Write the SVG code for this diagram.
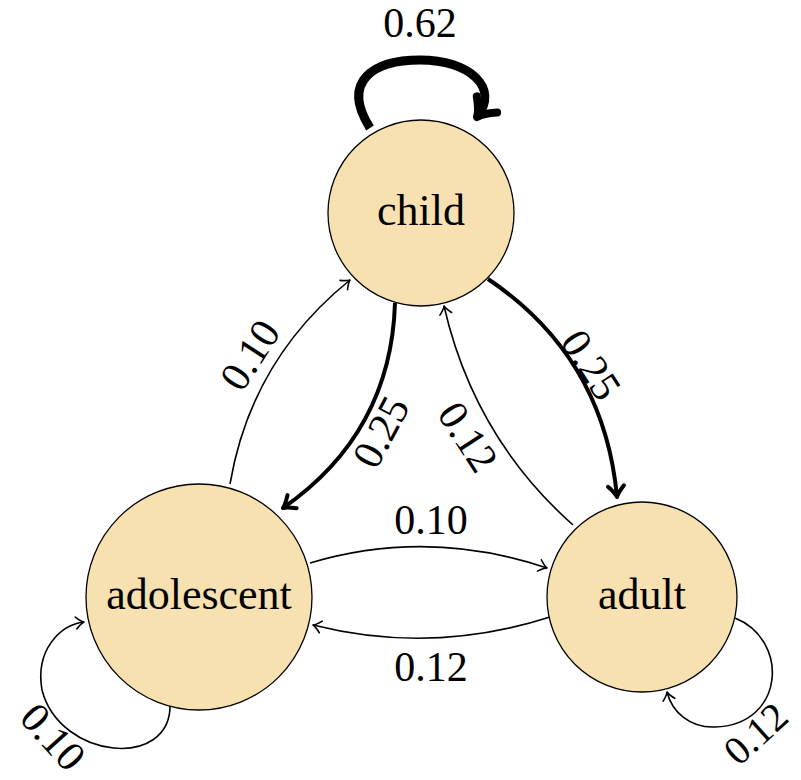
<svg xmlns="http://www.w3.org/2000/svg" width="801" height="780" viewBox="0 0 801 780">
<style>
.node{fill:#F7E1B1;stroke:#000;stroke-width:1.3}
.nl{font-family:"Liberation Serif","DejaVu Serif",serif;font-size:44px;fill:#000;text-anchor:middle}
.el{font-family:"Liberation Serif","DejaVu Serif",serif;font-size:42px;fill:#000;text-anchor:middle}
.thin{fill:none;stroke:#000;stroke-width:1.6}
.thick{fill:none;stroke:#000;stroke-width:4}
.heavy{fill:none;stroke:#000;stroke-width:9}
</style>
<defs>
<marker id="aThin" markerUnits="userSpaceOnUse" viewBox="-12 -10 14 20" markerWidth="14" markerHeight="20" refX="0" refY="0" orient="auto" overflow="visible">
<path d="M -8 -6 Q -3 -1 0 0 Q -3 1 -8 6" fill="none" stroke="#000" stroke-width="1.6" stroke-linecap="round" stroke-linejoin="round"/>
</marker>
<marker id="aThick" markerUnits="userSpaceOnUse" viewBox="-16 -12 18 24" markerWidth="18" markerHeight="24" refX="0" refY="0" orient="auto" overflow="visible">
<path d="M -11 -8 Q -4 -1.5 0 0 Q -4 1.5 -11 8" fill="none" stroke="#000" stroke-width="4" stroke-linecap="round" stroke-linejoin="round"/>
</marker>
<marker id="aHeavy" markerUnits="userSpaceOnUse" viewBox="-22 -18 26 36" markerWidth="26" markerHeight="36" refX="0" refY="0" orient="auto" overflow="visible">
<path d="M -16 -13 Q -6 -2 0 0 Q -6 2 -16 13" fill="none" stroke="#000" stroke-width="8" stroke-linecap="round" stroke-linejoin="round"/>
</marker>
</defs>
<g id="edges">
<path class="heavy" d="M 370 128 C 340 80, 375 60, 420 60 C 470 60, 500 88, 477 117" marker-end="url(#aHeavy)"/>
<path class="thick" d="M 395 303 Q 391 433 283 508" marker-end="url(#aThick)"/>
<path class="thin" d="M 230 484 Q 251 360 350 280" marker-end="url(#aThin)"/>
<path class="thick" d="M 488 279 Q 604 357 617 497" marker-end="url(#aThick)"/>
<path class="thin" d="M 573 525 Q 474 437 444 306" marker-end="url(#aThin)"/>
<path class="thin" d="M 310 563 Q 428 528 547 568" marker-end="url(#aThin)"/>
<path class="thin" d="M 550 617 Q 432 655 313 625" marker-end="url(#aThin)"/>
<path class="thin" d="M 170 704 C 172 770, 60 760, 42 690 C 35 650, 60 625, 84 622" marker-end="url(#aThin)"/>
<path class="thin" d="M 735 618 C 790 640, 785 725, 715 727 C 690 728, 672 712, 667 692" marker-end="url(#aThin)"/>
<text class="el" x="420" y="37">0.62</text>
<text class="el" transform="translate(250,355) rotate(-57)" y="14">0.10</text>
<text class="el" transform="translate(381,432) rotate(-62)" y="14">0.25</text>
<text class="el" transform="translate(591,365) rotate(57)" y="14">0.25</text>
<text class="el" transform="translate(468,437) rotate(57)" y="14">0.12</text>
<text class="el" x="431" y="534">0.10</text>
<text class="el" x="431" y="681">0.12</text>
<text class="el" transform="translate(53,737) rotate(48)" y="14">0.10</text>
<text class="el" transform="translate(756,734) rotate(-42)" y="13" style="font-size:40px">0.12</text>
</g>
<g id="child">
<circle class="node" cx="421" cy="213" r="93"/>
<text class="nl" x="421" y="225">child</text>
</g>
<g id="adolescent">
<circle class="node" cx="199" cy="597" r="113"/>
<text class="nl" x="199" y="609">adolescent</text>
</g>
<g id="adult">
<circle class="node" cx="642" cy="597" r="95"/>
<text class="nl" x="642" y="609">adult</text>
</g>
</svg>
